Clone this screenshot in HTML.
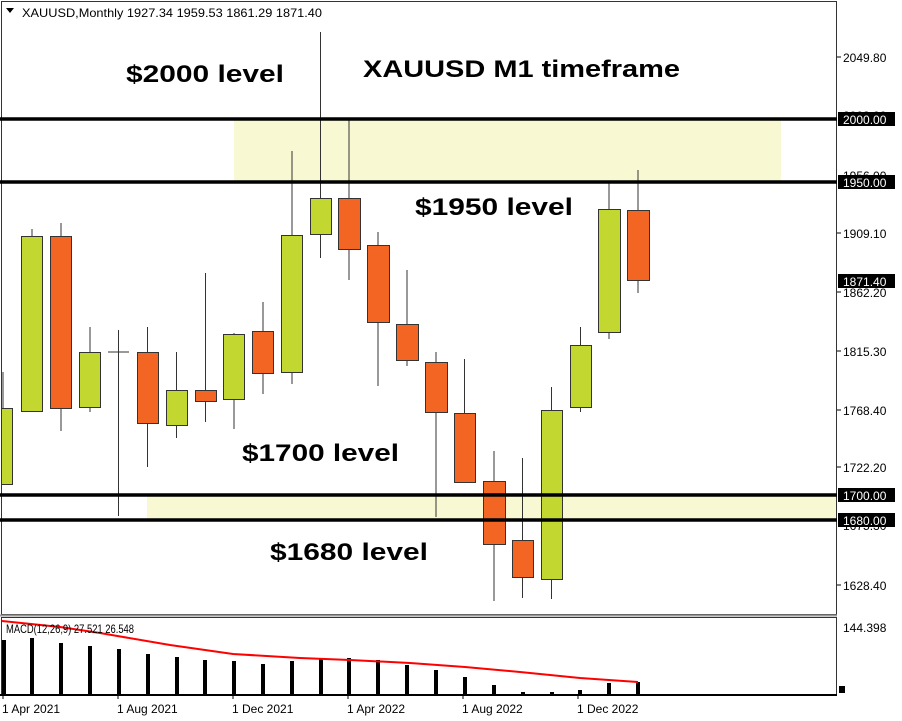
<!DOCTYPE html>
<html><head><meta charset="utf-8"><style>
html,body{margin:0;padding:0;background:#fff;}
svg{display:block;font-family:"Liberation Sans",sans-serif;}
</style></head><body>
<svg width="902" height="721" viewBox="0 0 902 721" xmlns="http://www.w3.org/2000/svg">
<rect width="902" height="721" fill="#fff"/>
<!-- zones -->
<rect x="234" y="119" width="547" height="63" fill="#f8f8d2"/>
<rect x="147" y="495" width="689" height="25" fill="#f8f8d2"/>
<!-- panels -->
<rect x="1.5" y="1.5" width="835" height="613" fill="none" stroke="#333" stroke-width="1"/>
<line x1="0" y1="615.5" x2="837" y2="615.5" stroke="#999" stroke-width="2"/>
<rect x="1.5" y="617.5" width="835" height="77" fill="none" stroke="#333" stroke-width="1"/>
<line x1="0" y1="695" x2="837" y2="695" stroke="#000" stroke-width="2"/>
<!-- header -->
<polygon points="6,8 14,8 10,13" fill="#000"/>
<text x="22" y="17" font-size="12" textLength="300" lengthAdjust="spacingAndGlyphs">XAUUSD,Monthly  1927.34 1959.53 1861.29 1871.40</text>
<!-- candles -->
<g stroke="#333" stroke-width="1">
<line x1="3" y1="372" x2="3" y2="485"/><rect x="1.5" y="408.5" width="11" height="76" fill="#c2d830"/>
<line x1="32" y1="229" x2="32" y2="412"/><rect x="21.5" y="236.5" width="21" height="175" fill="#c2d830"/>
<line x1="61" y1="223" x2="61" y2="431"/><rect x="50.5" y="236.5" width="21" height="172" fill="#f26522"/>
<line x1="90" y1="327" x2="90" y2="412"/><rect x="79.5" y="352.5" width="21" height="55" fill="#c2d830"/>
<line x1="118.5" y1="330" x2="118.5" y2="516"/><line x1="108" y1="352" x2="129" y2="352"/>
<line x1="147.5" y1="327" x2="147.5" y2="467"/><rect x="137.5" y="352.5" width="21" height="71" fill="#f26522"/>
<line x1="176.5" y1="352" x2="176.5" y2="438"/><rect x="166.5" y="390.5" width="21" height="35" fill="#c2d830"/>
<line x1="205.5" y1="273" x2="205.5" y2="422"/><rect x="195.5" y="390.5" width="21" height="11" fill="#f26522"/>
<line x1="234" y1="333" x2="234" y2="429"/><rect x="223.5" y="334.5" width="21" height="65" fill="#c2d830"/>
<line x1="263" y1="302" x2="263" y2="394"/><rect x="252.5" y="331.5" width="21" height="42" fill="#f26522"/>
<line x1="292" y1="151" x2="292" y2="384"/><rect x="281.5" y="235.5" width="21" height="137" fill="#c2d830"/>
<line x1="320.5" y1="32" x2="320.5" y2="258"/><rect x="310.5" y="198.5" width="21" height="36" fill="#c2d830"/>
<line x1="349" y1="120" x2="349" y2="280"/><rect x="338.5" y="198.5" width="22" height="51" fill="#f26522"/>
<line x1="378" y1="232" x2="378" y2="386"/><rect x="367.5" y="245.5" width="22" height="77" fill="#f26522"/>
<line x1="407" y1="270" x2="407" y2="366"/><rect x="396.5" y="324.5" width="22" height="36" fill="#f26522"/>
<line x1="436" y1="352" x2="436" y2="517"/><rect x="425.5" y="362.5" width="22" height="50" fill="#f26522"/>
<line x1="464.5" y1="359" x2="464.5" y2="483"/><rect x="454.5" y="413.5" width="21" height="69" fill="#f26522"/>
<line x1="494" y1="451" x2="494" y2="601"/><rect x="483.5" y="481.5" width="22" height="63" fill="#f26522"/>
<line x1="522.5" y1="458" x2="522.5" y2="598"/><rect x="512.5" y="540.5" width="21" height="37" fill="#f26522"/>
<line x1="551.5" y1="387" x2="551.5" y2="599"/><rect x="541.5" y="410.5" width="21" height="169" fill="#c2d830"/>
<line x1="580.5" y1="327" x2="580.5" y2="412"/><rect x="570.5" y="345.5" width="21" height="62" fill="#c2d830"/>
<line x1="609" y1="183" x2="609" y2="339"/><rect x="598.5" y="209.5" width="22" height="123" fill="#c2d830"/>
<line x1="638" y1="170" x2="638" y2="293"/><rect x="627.5" y="210.5" width="22" height="70" fill="#f26522"/>
</g>
<!-- level lines -->
<g stroke="#000" stroke-width="3.5">
<line x1="0" y1="119" x2="837" y2="119"/>
<line x1="0" y1="182" x2="837" y2="182"/>
<line x1="0" y1="495" x2="837" y2="495"/>
<line x1="0" y1="520" x2="837" y2="520"/>
</g>
<!-- annotations -->
<g font-weight="bold" font-size="24" fill="#000">
<text x="126" y="82" textLength="158" lengthAdjust="spacingAndGlyphs">$2000 level</text>
<text x="363" y="77" textLength="317" lengthAdjust="spacingAndGlyphs">XAUUSD M1 timeframe</text>
<text x="415" y="215" textLength="158" lengthAdjust="spacingAndGlyphs">$1950 level</text>
<text x="242" y="461" textLength="157" lengthAdjust="spacingAndGlyphs">$1700 level</text>
<text x="270" y="560" textLength="158" lengthAdjust="spacingAndGlyphs">$1680 level</text>
</g>
<!-- price axis -->
<g stroke="#000" stroke-width="1">
<line x1="837" y1="57" x2="841" y2="57"/><line x1="837" y1="233" x2="841" y2="233"/>
<line x1="837" y1="292" x2="841" y2="292"/><line x1="837" y1="351" x2="841" y2="351"/>
<line x1="837" y1="410" x2="841" y2="410"/><line x1="837" y1="467" x2="841" y2="467"/>
<line x1="837" y1="585" x2="841" y2="585"/>
</g>
<g font-size="12" fill="#000">
<text x="843" y="62">2049.80</text>
<text x="843" y="120">2003.00</text>
<text x="843" y="180">1956.00</text>
<text x="843" y="238">1909.10</text>
<text x="843" y="297">1862.20</text>
<text x="843" y="356">1815.30</text>
<text x="843" y="415">1768.40</text>
<text x="843" y="472">1722.20</text>
<text x="843" y="530">1675.30</text>
<text x="843" y="590">1628.40</text>
<text x="843" y="632">144.398</text>
</g>
<g>
<rect x="838" y="112" width="57" height="14" fill="#000"/>
<rect x="838" y="175" width="57" height="14" fill="#000"/>
<rect x="838" y="274" width="57" height="14" fill="#000"/>
<rect x="838" y="488" width="57" height="14" fill="#000"/>
<rect x="838" y="513" width="57" height="14" fill="#000"/>
</g>
<g font-size="12" fill="#fff">
<text x="843" y="124">2000.00</text>
<text x="843" y="187">1950.00</text>
<text x="843" y="286">1871.40</text>
<text x="843" y="500">1700.00</text>
<text x="843" y="525">1680.00</text>
</g>
<rect x="839" y="686" width="6" height="7" fill="#000"/>
<!-- MACD -->
<g fill="#000">
<rect x="2" y="640" width="4" height="55"/>
<rect x="30" y="638" width="4" height="57"/>
<rect x="59" y="643" width="4" height="52"/>
<rect x="88" y="646" width="4" height="49"/>
<rect x="117" y="649" width="4" height="46"/>
<rect x="146" y="654" width="4" height="41"/>
<rect x="175" y="657" width="4" height="38"/>
<rect x="203" y="660" width="4" height="35"/>
<rect x="232" y="661" width="4" height="34"/>
<rect x="261" y="664" width="4" height="31"/>
<rect x="290" y="661" width="4" height="34"/>
<rect x="319" y="658" width="4" height="37"/>
<rect x="347" y="658" width="4" height="37"/>
<rect x="376" y="660" width="4" height="35"/>
<rect x="405" y="665" width="4" height="30"/>
<rect x="434" y="670" width="4" height="25"/>
<rect x="463" y="677" width="4" height="18"/>
<rect x="492" y="685" width="4" height="10"/>
<rect x="521" y="692" width="4" height="3"/>
<rect x="550" y="692" width="4" height="3"/>
<rect x="578" y="690" width="4" height="5"/>
<rect x="607" y="683" width="4" height="12"/>
<rect x="636" y="682" width="4" height="13"/>
</g>
<polyline points="2,621 60,627 100,633 170,645 233,654 300,658 350,660 410,663 465,667 520,672 580,678 638,682" fill="none" stroke="#f00" stroke-width="2"/>
<text x="6" y="633" font-size="12" fill="#000" textLength="128" lengthAdjust="spacingAndGlyphs">MACD(12,26,9) 27.521 26.548</text>
<!-- date axis -->
<g stroke="#000"><line x1="3" y1="695" x2="3" y2="699"/><line x1="118" y1="695" x2="118" y2="699"/><line x1="233" y1="695" x2="233" y2="699"/><line x1="348" y1="695" x2="348" y2="699"/><line x1="463" y1="695" x2="463" y2="699"/><line x1="578" y1="695" x2="578" y2="699"/></g>
<g font-size="12" fill="#000">
<text x="2" y="713">1 Apr 2021</text>
<text x="117" y="713">1 Aug 2021</text>
<text x="232" y="713">1 Dec 2021</text>
<text x="347" y="713">1 Apr 2022</text>
<text x="462" y="713">1 Aug 2022</text>
<text x="577" y="713">1 Dec 2022</text>
</g>
</svg>
</body></html>
